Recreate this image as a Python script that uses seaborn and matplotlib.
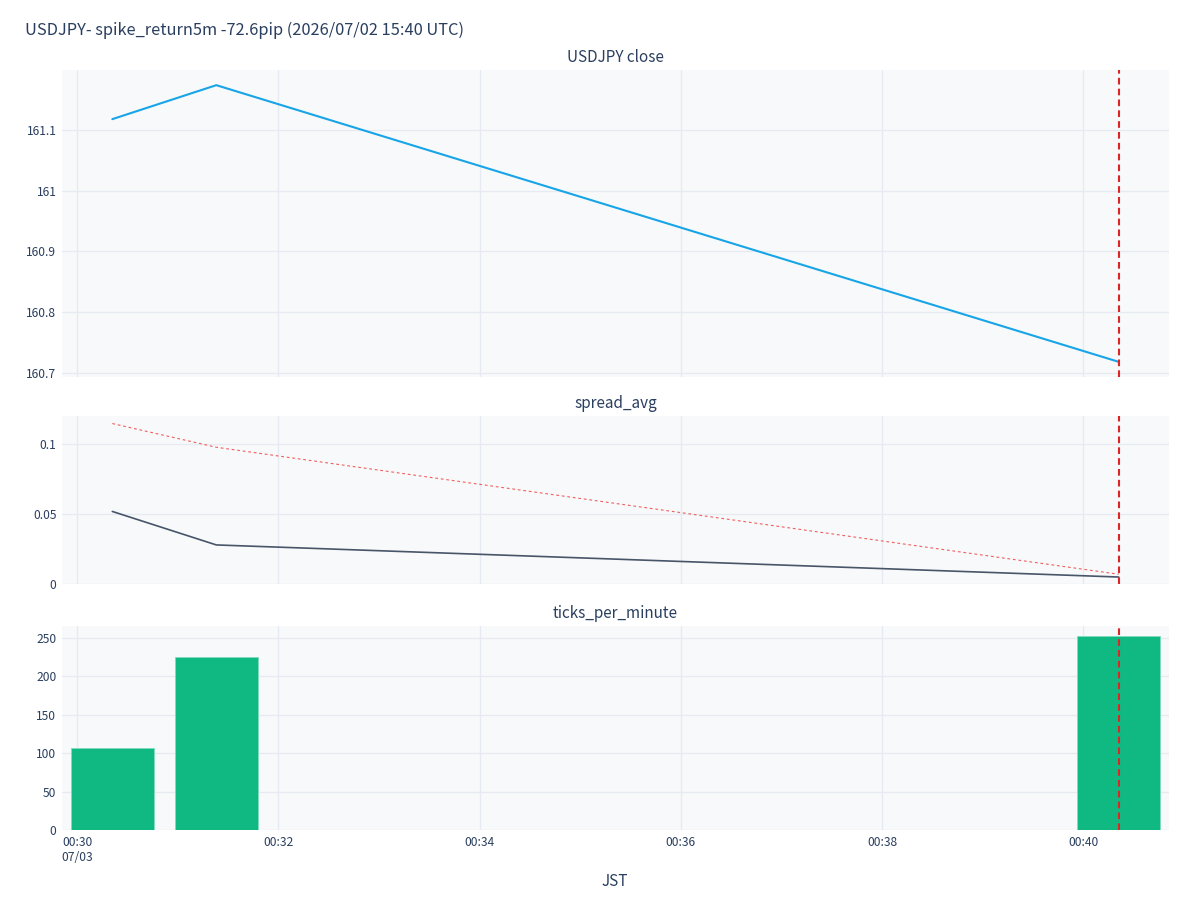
import matplotlib
matplotlib.use("Agg")
import matplotlib.pyplot as plt
import matplotlib.dates as mdates
from matplotlib.ticker import FuncFormatter
import seaborn as sns
import pandas as pd

# ---- data ----
times = ["2026-07-03 00:30:21", "2026-07-03 00:31:23", "2026-07-03 00:40:21"]
close = [161.118, 161.174, 160.718]
spread_avg = [0.052, 0.028, 0.005]
spread_threshold = [0.115, 0.098, 0.007]
ticks_per_minute = [107, 225, 253]
event_time = "2026-07-03 00:40:21"
title = "USDJPY- spike_return5m -72.6pip (2026/07/02 15:40 UTC)"
panel_titles = ["USDJPY close", "spread_avg", "ticks_per_minute"]
xlabel = "JST"
x_range = ["2026-07-03 00:29:51", "2026-07-03 00:40:51"]

df = pd.DataFrame({
    "time": pd.to_datetime(times),
    "close": close,
    "spread_avg": spread_avg,
    "threshold": spread_threshold,
    "ticks": ticks_per_minute,
})

sns.set_theme(style="white")
plt.rcParams["font.family"] = ["Noto Sans CJK JP", "DejaVu Sans"]

TEXT = "#2a3f5f"
GRID = "#e6eaf2"
BG = "#f8f9fa"

fig = plt.figure(figsize=(12, 9), dpi=100)
L, R = 62 / 1200, 1169 / 1200
def pos(top, bot):
    return [L, 1 - bot / 900, R - L, (bot - top) / 900]

ax1 = fig.add_axes(pos(70, 377))
ax2 = fig.add_axes(pos(416, 584), sharex=ax1)
ax3 = fig.add_axes(pos(626, 830), sharex=ax1)

sns.lineplot(data=df, x="time", y="close", ax=ax1, color="#17a5e8", lw=1.5)
sns.lineplot(data=df, x="time", y="threshold", ax=ax2, color="#ef4444",
             lw=0.8, alpha=0.85, linestyle=(0, (2.5, 2.5)))
sns.lineplot(data=df, x="time", y="spread_avg", ax=ax2, color="#475569", lw=1.2)

bar_w = pd.Timedelta(seconds=49.6) / pd.Timedelta(days=1)
ax3.bar(df["time"], df["ticks"], width=bar_w, color="#10b981",
        edgecolor="#7fdcbc", linewidth=0.6, zorder=2)

ev = pd.Timestamp(event_time)
for ax in (ax1, ax2, ax3):
    ax.axvline(ev, color="#dc2626", lw=1.5, linestyle=(0, (3.2, 2)), zorder=5)

ax1.set_ylim(160.693, 161.199)
ax1.set_yticks([160.7, 160.8, 160.9, 161.0, 161.1])
ax2.set_ylim(0, 0.1204)
ax2.set_yticks([0, 0.05, 0.1])
ax3.set_ylim(0, 265.6)
ax3.set_yticks([0, 50, 100, 150, 200, 250])

fmt = FuncFormatter(lambda v, p: f"{v:g}")
for ax, t in zip((ax1, ax2, ax3), panel_titles):
    ax.set_facecolor(BG)
    for s in ax.spines.values():
        s.set_visible(False)
    ax.grid(True, color=GRID, lw=1, zorder=0)
    ax.set_axisbelow(True)
    ax.yaxis.set_major_formatter(fmt)
    ax.tick_params(axis="both", length=0, labelsize=8.7, labelcolor=TEXT, pad=4)
    ax.set_xlabel("")
    ax.set_ylabel("")
    ax.set_title(t, fontsize=11, color=TEXT, pad=6)

ax1.set_xlim(pd.Timestamp(x_range[0]), pd.Timestamp(x_range[1]))
ax3.xaxis.set_major_locator(mdates.MinuteLocator(byminute=range(0, 60, 2)))
def xfmt(v, p):
    d = mdates.num2date(v)
    s = d.strftime("%H:%M")
    if d.minute == 30:
        s += "\n" + d.strftime("%m/%d")
    return s
ax3.xaxis.set_major_formatter(FuncFormatter(xfmt))
for lab in ax3.get_xticklabels():
    lab.set_horizontalalignment("center")
plt.setp(ax1.get_xticklabels(), visible=False)
plt.setp(ax2.get_xticklabels(), visible=False)
ax3.set_xlabel("")
fig.text(615 / 1200, 1 - 882 / 900, xlabel, fontsize=11, color=TEXT, ha="center", va="center")

fig.text(25 / 1200, 1 - 30 / 900, title, fontsize=11.8, color=TEXT, va="center", ha="left")

fig.savefig("out.png", dpi=100, facecolor="white")
